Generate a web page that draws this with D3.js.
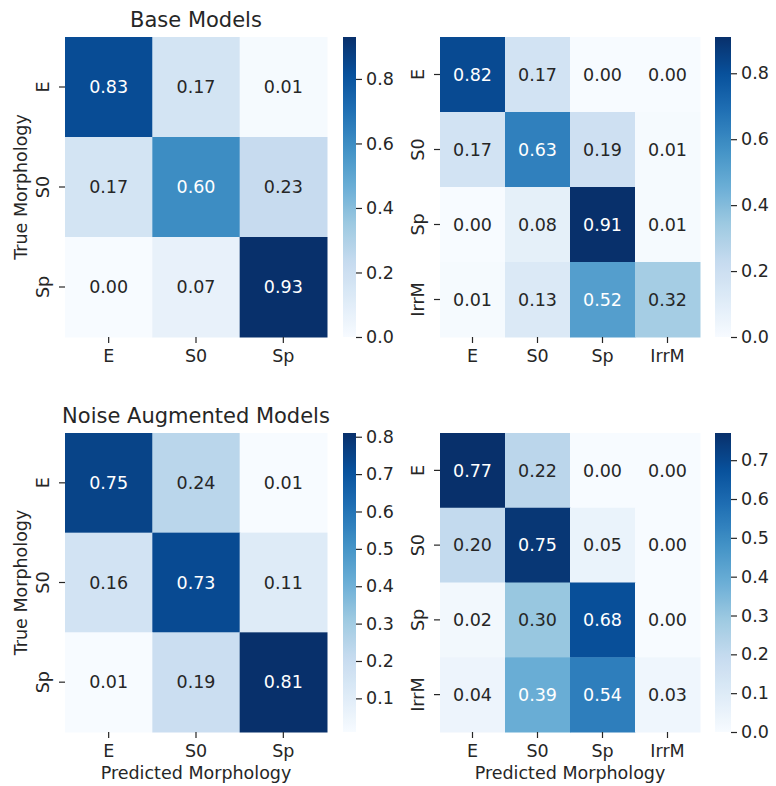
<!DOCTYPE html>
<html>
<head>
<meta charset="utf-8">
<script src="https://cdn.jsdelivr.net/npm/d3@7"></script>
<style>
  html, body { margin: 0; padding: 0; background: #fff; }
  svg { display: block; font-family: "DejaVu Sans", sans-serif; }
</style>
</head>
<body>
<svg id="chart" width="776" height="786"></svg>
<script>
// Class labels
const classes3 = ["E", "S0", "Sp"];
const classes4 = ["E", "S0", "Sp", "IrrM"];

// Normalised confusion matrices (rows = true class, columns = predicted class)
const baseMatrix3 = [
  [0.83, 0.17, 0.01],
  [0.17, 0.60, 0.23],
  [0.00, 0.07, 0.93]
];
const baseMatrix4 = [
  [0.82, 0.17, 0.00, 0.00],
  [0.17, 0.63, 0.19, 0.01],
  [0.00, 0.08, 0.91, 0.01],
  [0.01, 0.13, 0.52, 0.32]
];
const noiseMatrix3 = [
  [0.75, 0.24, 0.01],
  [0.16, 0.73, 0.11],
  [0.01, 0.19, 0.81]
];
const noiseMatrix4 = [
  [0.77, 0.22, 0.00, 0.00],
  [0.20, 0.75, 0.05, 0.00],
  [0.02, 0.30, 0.68, 0.00],
  [0.04, 0.39, 0.54, 0.03]
];

// Colour-bar tick values
const baseTicks3 = [0.0, 0.2, 0.4, 0.6, 0.8];
const baseTicks4 = [0.0, 0.2, 0.4, 0.6, 0.8];
const noiseTicks3 = [0.1, 0.2, 0.3, 0.4, 0.5, 0.6, 0.7, 0.8];
const noiseTicks4 = [0.0, 0.1, 0.2, 0.3, 0.4, 0.5, 0.6, 0.7];

// Titles and axis labels
const titles = ["Base Models", "", "Noise Augmented Models", ""];
const yLabel = "True Morphology";
const xLabel = "Predicted Morphology";

// Blues colour map (linear segments between the ColorBrewer anchors)
const bluesAnchors = ["#f7fbff", "#deebf7", "#c6dbef", "#9ecae1", "#6baed6",
                      "#4292c6", "#2171b5", "#08519c", "#08306b"];
const blues = d3.scaleLinear()
  .domain(d3.range(bluesAnchors.length).map(i => i / (bluesAnchors.length - 1)))
  .range(bluesAnchors)
  .interpolate(d3.interpolateRgb)
  .clamp(true);

const FONT = 17.5;
const TITLE_FONT = 21;
const TEXT_DARK = "#262626";

function luminance(c) {
  const rgb = d3.rgb(c);
  const f = v => { v /= 255; return v <= 0.03928 ? v / 12.92 : Math.pow((v + 0.055) / 1.055, 2.4); };
  return 0.2126 * f(rgb.r) + 0.7152 * f(rgb.g) + 0.0722 * f(rgb.b);
}

const svg = d3.select("#chart");
const defs = svg.append("defs");

const panels = [
  { matrix: baseMatrix3, classes: classes3, ticks: baseTicks3, title: titles[0],
    box: [65, 37, 327, 337], cb: [343, 356], yLab: true, xLab: false },
  { matrix: baseMatrix4, classes: classes4, ticks: baseTicks4, title: titles[1],
    box: [440, 37, 700, 337], cb: [715, 731], yLab: false, xLab: false },
  { matrix: noiseMatrix3, classes: classes3, ticks: noiseTicks3, title: titles[2],
    box: [65, 433, 327, 732], cb: [343, 356], yLab: true, xLab: true },
  { matrix: noiseMatrix4, classes: classes4, ticks: noiseTicks4, title: titles[3],
    box: [440, 433, 700, 732], cb: [715, 731], yLab: false, xLab: true }
];

panels.forEach((p, pi) => {
  const [x0, y0, x1, y1] = p.box;
  const flat = p.matrix.flat();
  const vmin = d3.min(flat), vmax = d3.max(flat);
  const norm = d3.scaleLinear().domain([vmin, vmax]).range([0, 1]);
  const colorOf = v => blues(norm(v));

  const x = d3.scaleBand().domain(p.classes).range([x0, x1]);
  const y = d3.scaleBand().domain(p.classes).range([y0, y1]);

  const g = svg.append("g");

  const cells = p.matrix.flatMap((row, i) => row.map((v, j) => ({ t: p.classes[i], pr: p.classes[j], v })));

  g.selectAll("rect.cell").data(cells).enter().append("rect")
    .attr("class", "cell")
    .attr("x", d => x(d.pr))
    .attr("y", d => y(d.t))
    .attr("width", x.bandwidth() + 0.5)
    .attr("height", y.bandwidth() + 0.5)
    .attr("fill", d => colorOf(d.v));

  g.selectAll("text.annot").data(cells).enter().append("text")
    .attr("class", "annot")
    .attr("x", d => x(d.pr) + x.bandwidth() / 2)
    .attr("y", d => y(d.t) + y.bandwidth() / 2)
    .attr("dy", "0.36em")
    .attr("text-anchor", "middle")
    .attr("font-size", FONT)
    .attr("fill", d => luminance(colorOf(d.v)) > 0.408 ? TEXT_DARK : "#ffffff")
    .text(d => d3.format(".2f")(d.v));

  // x axis
  const xAxis = g.append("g")
    .attr("transform", `translate(0,${y1})`)
    .call(d3.axisBottom(x).tickSize(6).tickPadding(7));
  xAxis.select(".domain").remove();
  xAxis.selectAll("line").attr("stroke", "#262626").attr("stroke-width", 1.2);
  xAxis.selectAll("text").attr("font-size", FONT).attr("fill", TEXT_DARK)
    .attr("font-family", "DejaVu Sans, sans-serif");

  // y axis with vertical labels
  const yAxis = g.append("g")
    .attr("transform", `translate(${x0},0)`)
    .call(d3.axisLeft(y).tickSize(6).tickFormat(""));
  yAxis.select(".domain").remove();
  yAxis.selectAll("line").attr("stroke", "#262626").attr("stroke-width", 1.2);
  g.selectAll("text.ytick").data(p.classes).enter().append("text")
    .attr("class", "ytick")
    .attr("transform", d => `translate(${x0 - 16},${y(d) + y.bandwidth() / 2}) rotate(-90)`)
    .attr("text-anchor", "middle")
    .attr("font-size", FONT)
    .attr("fill", TEXT_DARK)
    .text(d => d);

  if (p.title) {
    g.append("text")
      .attr("x", (x0 + x1) / 2)
      .attr("y", y0 - 10)
      .attr("text-anchor", "middle")
      .attr("font-size", TITLE_FONT)
      .attr("fill", TEXT_DARK)
      .text(p.title);
  }
  if (p.yLab) {
    g.append("text")
      .attr("transform", `translate(${x0 - 38},${(y0 + y1) / 2}) rotate(-90)`)
      .attr("text-anchor", "middle")
      .attr("font-size", FONT)
      .attr("fill", TEXT_DARK)
      .text(yLabel);
  }
  if (p.xLab) {
    g.append("text")
      .attr("x", (x0 + x1) / 2)
      .attr("y", y1 + 47)
      .attr("text-anchor", "middle")
      .attr("font-size", FONT)
      .attr("fill", TEXT_DARK)
      .text(xLabel);
  }

  // colour bar
  const [c0, c1] = p.cb;
  const gradId = "grad" + pi;
  const grad = defs.append("linearGradient").attr("id", gradId)
    .attr("x1", 0).attr("y1", 1).attr("x2", 0).attr("y2", 0);
  d3.range(0, 1.0001, 0.02).forEach(t => {
    grad.append("stop").attr("offset", t).attr("stop-color", blues(t));
  });
  g.append("rect")
    .attr("x", c0).attr("y", y0)
    .attr("width", c1 - c0).attr("height", y1 - y0)
    .attr("fill", `url(#${gradId})`);

  const cbScale = d3.scaleLinear().domain([vmin, vmax]).range([y1, y0]);
  const cbAxis = g.append("g")
    .attr("transform", `translate(${c1},0)`)
    .call(d3.axisRight(cbScale).tickValues(p.ticks).tickFormat(d3.format(".1f")).tickSize(6).tickPadding(4));
  cbAxis.select(".domain").remove();
  cbAxis.selectAll("line").attr("stroke", "#262626").attr("stroke-width", 1.2);
  cbAxis.selectAll("text").attr("font-size", FONT).attr("fill", TEXT_DARK)
    .attr("font-family", "DejaVu Sans, sans-serif");
});
</script>
</body>
</html>
